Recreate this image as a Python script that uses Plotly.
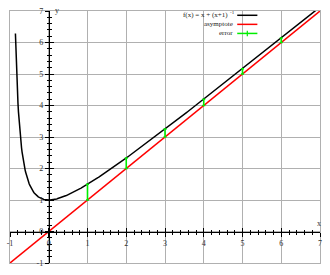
import numpy as np
import plotly.graph_objects as go

# ---- data ----
x_start, x_end = -0.86, 7.0          # visible domain of f
asym_x = [-1, 7]                     # asymptote y = x
asym_y = [-1, 7]
err_x = [1, 2, 3, 4, 5, 6]           # error bar positions
x_ticks = [-1, 0, 1, 2, 3, 4, 5, 6, 7]
y_ticks = [-1, 0, 1, 2, 3, 4, 5, 6, 7]


def f(x):
    return x + 1.0 / (x + 1.0)


curve_x = np.linspace(x_start, x_end, 600)
curve_y = f(curve_x)
err_lo = list(err_x)
err_up = [f(v) - v for v in err_x]

FONT = "Liberation Serif"
tickfont = dict(family=FONT, size=8, color="#333")

fig = go.Figure()
fig.add_trace(go.Scatter(x=curve_x, y=curve_y, mode="lines",
                         line=dict(color="black", width=1.5),
                         showlegend=False, hoverinfo="skip"))
fig.add_trace(go.Scatter(x=asym_x, y=asym_y, mode="lines",
                         line=dict(color="#ff0000", width=1.5),
                         showlegend=False, hoverinfo="skip"))
fig.add_trace(go.Scatter(x=err_x, y=err_lo, mode="markers",
                         marker=dict(size=1, color="rgba(0,0,0,0)"),
                         error_y=dict(type="data", symmetric=False, array=err_up,
                                      arrayminus=[0] * len(err_x),
                                      color="#00ee00", thickness=1.6, width=1.5),
                         showlegend=False, hoverinfo="skip"))
# dummy traces to activate overlay axes
fig.add_trace(go.Scatter(x=[None], y=[None], xaxis="x2", yaxis="y", showlegend=False))
fig.add_trace(go.Scatter(x=[None], y=[None], xaxis="x3", yaxis="y", showlegend=False))
fig.add_trace(go.Scatter(x=[None], y=[None], xaxis="x", yaxis="y2", showlegend=False))
fig.add_trace(go.Scatter(x=[None], y=[None], xaxis="x", yaxis="y3", showlegend=False))

rng = [-1, 7]
grid = "#b0b0b0"
base = dict(range=rng, showgrid=True, gridcolor=grid, gridwidth=1,
            tickvals=x_ticks, showticklabels=False, ticks="",
            zeroline=False, showline=True, linecolor=grid, linewidth=1,
            mirror=True, fixedrange=True)


def tick_axis(side_ticks, labels, overlay, side):
    vals = x_ticks if overlay == "x" else y_ticks
    return dict(overlaying=overlay, anchor="free", position=0.125, side=side,
                range=rng, showgrid=False, zeroline=False,
                showline=True, linecolor="black", linewidth=1,
                ticks=side_ticks, ticklen=4, tickwidth=1, tickcolor="black",
                tickvals=vals, ticktext=[str(v) for v in vals],
                minor=dict(dtick=0.2, tick0=0, ticks=side_ticks, ticklen=2,
                           tickcolor="black", tickwidth=1, showgrid=False),
                showticklabels=labels, tickfont=tickfont, fixedrange=True)


fig.update_layout(
    width=330, height=275,
    margin=dict(l=10, r=10, t=7, b=8),
    paper_bgcolor="white", plot_bgcolor="white",
    xaxis=dict(**base),
    yaxis=dict(**{**base, "tickvals": y_ticks}),
    xaxis2=tick_axis("outside", True, "x", "bottom"),
    xaxis3=tick_axis("inside", False, "x", "bottom"),
    yaxis2=tick_axis("outside", True, "y", "left"),
    yaxis3=tick_axis("inside", False, "y", "left"),
    showlegend=False,
)

# axis name labels
fig.add_annotation(x=7, y=0, xref="x", yref="y", text="x", showarrow=False,
                   yshift=8, xshift=-1, font=dict(family=FONT, size=8, color="#333"))
fig.add_annotation(x=0, y=7, xref="x", yref="y", text="y", showarrow=False,
                   xanchor="left", xshift=4, yshift=1,
                   font=dict(family=FONT, size=8, color="#333"))

# manual legend (text right, sample on the right side)
fig.add_shape(type="rect", xref="paper", yref="paper", x0=0.533, x1=0.814,
              y0=0.893, y1=0.996, fillcolor="white", line=dict(width=0),
              layer="between")
legend_rows = [("f(x) = x + (x+1)", "black", 0.983),
               ("asymptote", "#ff0000", 0.947),
               ("error", "#00ee00", 0.911)]
text_right = [0.707, 0.721, 0.721]
lfont = dict(family=FONT, size=7, color="#222")
for (txt, col, yp), xr in zip(legend_rows, text_right):
    fig.add_annotation(x=xr, y=yp, xref="paper", yref="paper", text=txt,
                       showarrow=False, xanchor="right", yanchor="middle",
                       font=lfont, borderpad=0)
    fig.add_shape(type="line", xref="paper", yref="paper", x0=0.733, x1=0.798,
                  y0=yp, y1=yp, line=dict(color=col, width=1.5), layer="above")
# superscript of the first legend entry
fig.add_annotation(x=0.708, y=0.983, xref="paper", yref="paper", text="-1",
                   showarrow=False, xanchor="left", yanchor="middle", yshift=3,
                   font=dict(family=FONT, size=5, color="#222"), borderpad=0)
fig.add_shape(type="line", xref="paper", yref="paper", x0=0.7655, x1=0.7655,
              y0=0.911 - 0.011, y1=0.911 + 0.011,
              line=dict(color="#00ee00", width=1.2), layer="above")

fig.write_html("out.html")
